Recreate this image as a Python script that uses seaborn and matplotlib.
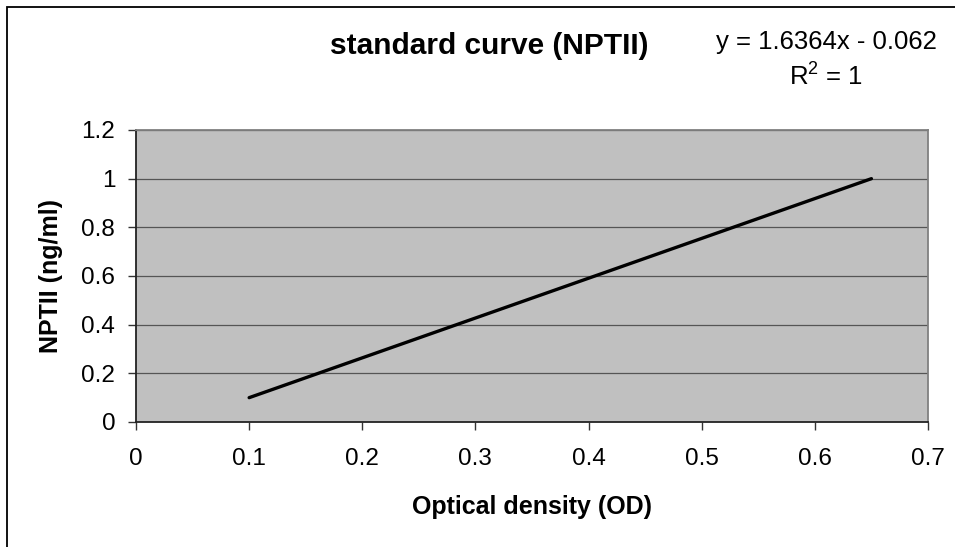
import matplotlib
matplotlib.use("Agg")
import matplotlib.pyplot as plt
import seaborn as sns
import pandas as pd
from matplotlib.patches import Rectangle

# data
od_values = [0.1, 0.65]
nptii_values = [0.1, 1.0]
x_ticks = [0, 0.1, 0.2, 0.3, 0.4, 0.5, 0.6, 0.7]
y_ticks = [0, 0.2, 0.4, 0.6, 0.8, 1.0, 1.2]
x_ticklabels = ["0", "0.1", "0.2", "0.3", "0.4", "0.5", "0.6", "0.7"]
y_ticklabels = ["0", "0.2", "0.4", "0.6", "0.8", "1", "1.2"]

title_text = "standard curve (NPTII)"
equation_text = "y = 1.6364x - 0.062"
r2_text = "R$^2$ = 1"
x_label = "Optical density (OD)"
y_label = "NPTII (ng/ml)"

sns.set_theme(style="white")
plt.rcParams['font.family'] = ['Liberation Sans', 'DejaVu Sans']
plt.rcParams['text.color'] = 'black'
plt.rcParams['axes.labelcolor'] = 'black'
plt.rcParams['mathtext.fontset'] = 'custom'
plt.rcParams['mathtext.rm'] = 'Liberation Sans'
plt.rcParams['mathtext.it'] = 'Liberation Sans'

df = pd.DataFrame({'od': od_values, 'nptii': nptii_values})

W, H = 955, 547
fig = plt.figure(figsize=(W / 100, H / 100), dpi=100)
fig.patch.set_facecolor('white')

# plot area in pixel terms
left, right, top, bottom = 136, 928, 130, 422
ax = fig.add_axes([left / W, 1 - bottom / H, (right - left) / W, (bottom - top) / H])
ax.set_facecolor('#C0C0C0')

sns.lineplot(data=df, x='od', y='nptii', ax=ax, color='black', linewidth=2.4,
             solid_capstyle='round', zorder=3)

ax.set_xlim(0, 0.7)
ax.set_ylim(0, 1.2)
ax.set_xticks(x_ticks)
ax.set_xticklabels(x_ticklabels)
ax.set_yticks(y_ticks)
ax.set_yticklabels(y_ticklabels)

for yv in y_ticks[1:]:
    ax.axhline(yv, color='#555555', linewidth=0.9, zorder=1)

ax.tick_params(axis='both', which='major', direction='out', length=6, width=1,
               color='#333333', labelsize=17.5, labelcolor='black', left=True, bottom=True)
ax.tick_params(axis='x', pad=13)
ax.tick_params(axis='y', pad=9)

for side in ['left', 'bottom']:
    ax.spines[side].set_color('#222222')
    ax.spines[side].set_linewidth(1.3)
for side in ['right', 'top']:
    ax.spines[side].set_color('#808080')
    ax.spines[side].set_linewidth(1.3)

ax.set_xlabel(x_label, fontsize=18, fontweight='bold', va='center', color='black')
ax.set_ylabel(y_label, fontsize=18, fontweight='bold', va='center', color='black')
ax.xaxis.set_label_coords((532 - left) / (right - left), (bottom - 507) / (bottom - top))
ax.yaxis.set_label_coords((51 - left) / (right - left), (bottom - 276) / (bottom - top))

fig.text(489 / W, 1 - 46 / H, title_text, fontsize=21.5, fontweight='bold',
         ha='center', va='center', color='black')
fig.text(826 / W, 1 - 42.5 / H, equation_text, fontsize=18.5, ha='center', va='center',
         color='black')
fig.text(826 / W, 1 - 77 / H, r2_text, fontsize=18.5, ha='center', va='center',
         color='black')

# chart area border (runs off the right and bottom of the image)
fig.patches.append(Rectangle((7 / W, -0.1), 1.2, 1 - 7 / H + 0.1, transform=fig.transFigure,
                             fill=False, edgecolor='black', linewidth=1.3))

fig.savefig('out.png', dpi=100)
